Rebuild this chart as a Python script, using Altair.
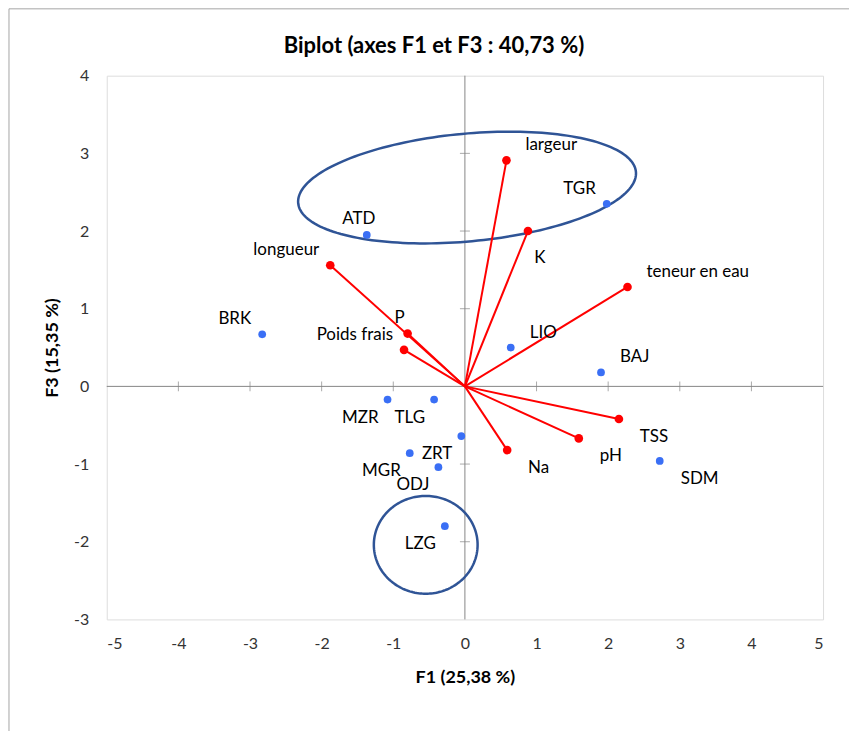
import altair as alt
import numpy as np
import pandas as pd

# Observations (blue) on F1 / F3
obs_names = ["TGR", "ATD", "BRK", "LIO", "BAJ", "MZR", "TLG", "ZRT", "MGR", "ODJ", "LZG", "SDM"]
obs_f1 = [1.98, -1.37, -2.83, 0.64, 1.90, -1.08, -0.43, -0.05, -0.77, -0.37, -0.28, 2.72]
obs_f3 = [2.35, 1.95, 0.67, 0.50, 0.18, -0.17, -0.17, -0.64, -0.86, -1.04, -1.80, -0.96]
obs_place = ["NW", "N", "NW", "NE", "NE", "SW", "SW", "SW", "SW", "SW", "SW", "SE"]

# Variables (red vectors)
var_names = ["largeur", "K", "longueur", "teneur en eau", "P", "Poids frais", "TSS", "pH", "Na"]
var_f1 = [0.58, 0.88, -1.88, 2.27, -0.80, -0.85, 2.15, 1.59, 0.59]
var_f3 = [2.91, 2.00, 1.56, 1.28, 0.68, 0.47, -0.42, -0.67, -0.82]
var_place = ["NE", "S", "NW", "NE", "N", "NW", "SE", "SE", "SE"]

x_ticks = [-5, -4, -3, -2, -1, 0, 1, 2, 3, 4, 5]
y_ticks = [-3, -2, -1, 0, 1, 2, 3, 4]
inner_x_ticks = [-4, -3, -2, -1, 1, 2, 3, 4]
inner_y_ticks = [-2, -1, 1, 2, 3]

TITLE = "Biplot (axes F1 et F3 : 40,73 %)"
X_TITLE = "F1 (25,38 %)"
Y_TITLE = "F3 (15,35 %)"

W, H = 718, 545
PX_X = W / (x_ticks[-1] - x_ticks[0])
PX_Y = H / (y_ticks[-1] - y_ticks[0])

FONT = "Lato"
BLUE = "#3A6FF5"
RED = "#FF0000"
NAVY = "#2F5496"
GREY = "#868686"

obs = pd.DataFrame({"name": obs_names, "f1": obs_f1, "f3": obs_f3, "place": obs_place})
var = pd.DataFrame({"name": var_names, "f1": var_f1, "f3": var_f3, "place": var_place})
labels = pd.concat([obs, var], ignore_index=True)


# Group outlines: ellipses given by centre (data units), semi-axes and tilt (pixels / degrees)
def outline(name, cx, cy, a_px, b_px, tilt_deg, n=181):
    t = np.linspace(0, 2 * np.pi, n)
    th = np.radians(tilt_deg)
    xp = a_px * np.cos(t) * np.cos(th) - b_px * np.sin(t) * np.sin(th)
    yp = a_px * np.cos(t) * np.sin(th) + b_px * np.sin(t) * np.cos(th)
    return pd.DataFrame({"shape": name, "i": np.arange(n),
                         "f1": cx + xp / PX_X, "f3": cy + yp / PX_Y})


groups = pd.concat([
    outline("haut", 0.03, 2.56, 170, 54, 5.3),
    outline("bas", -0.547, -2.04, 52, 49, 0),
], ignore_index=True)

xs = alt.Scale(domain=[x_ticks[0], x_ticks[-1]], nice=False, zero=False)
ys = alt.Scale(domain=[y_ticks[0], y_ticks[-1]], nice=False, zero=False)

axis_common = dict(grid=False, ticks=False, domain=False, labelFontSize=16,
                   labelColor="#333333", titleFontSize=18, titleFontWeight="bold",
                   titleColor="#000000", labelFont=FONT, titleFont=FONT,
                   labelExpr="'' + datum.value")
x_axis = alt.Axis(values=x_ticks, labelPadding=16, titlePadding=17, **axis_common)
y_axis = alt.Axis(values=y_ticks, labelPadding=18, titlePadding=12, **axis_common)

X = alt.X("f1:Q", scale=xs, title=X_TITLE, axis=x_axis)
Y = alt.Y("f3:Q", scale=ys, title=Y_TITLE, axis=y_axis)

# Zero lines through the origin
zero_v = alt.Chart(pd.DataFrame({"f1": [0]})).mark_rule(color=GREY, strokeWidth=1).encode(x=X)
zero_h = alt.Chart(pd.DataFrame({"f3": [0]})).mark_rule(color=GREY, strokeWidth=1).encode(y=Y)

# Crossing tick marks on the zero lines
tx = alt.Chart(pd.DataFrame({"f1": inner_x_ticks, "f3": 0})).mark_tick(
    orient="vertical", color=GREY, size=10, thickness=1).encode(x=X, y=Y)
ty = alt.Chart(pd.DataFrame({"f1": 0, "f3": inner_y_ticks})).mark_tick(
    orient="horizontal", color=GREY, size=10, thickness=1).encode(x=X, y=Y)

ellipses = alt.Chart(groups).mark_line(color=NAVY, strokeWidth=2.5).encode(
    x=X, y=Y, detail="shape:N", order="i:Q")

vectors = alt.Chart(var).transform_calculate(x0="0", y0="0").mark_rule(
    color=RED, strokeWidth=2).encode(
        x=alt.X("x0:Q", scale=xs, axis=x_axis, title=X_TITLE),
        y=alt.Y("y0:Q", scale=ys, axis=y_axis, title=Y_TITLE),
        x2="f1:Q", y2="f3:Q")
var_pts = alt.Chart(var).mark_circle(color=RED, size=75, opacity=1).encode(x=X, y=Y)
obs_pts = alt.Chart(obs).mark_circle(color=BLUE, size=60, opacity=1).encode(x=X, y=Y)

# Label placement around each point
placements = {
    "NE": dict(align="left", dx=19, dy=-15),
    "NW": dict(align="right", dx=-11, dy=-15),
    "N": dict(align="center", dx=-8, dy=-16),
    "S": dict(align="center", dx=12, dy=27),
    "SE": dict(align="left", dx=21, dy=18),
    "SW": dict(align="right", dx=-9, dy=18),
}
text_layers = []
for key, p in placements.items():
    text_layers.append(
        alt.Chart(labels).transform_filter(alt.datum.place == key).mark_text(
            font=FONT, fontSize=17, color="#000000", baseline="middle", **p
        ).encode(x=X, y=Y, text="name:N")
    )

one_row = pd.DataFrame({"k": [0]})

# Chart heading, centred on the whole figure
heading = alt.Chart(one_row).mark_text(
    font=FONT, fontSize=22, fontWeight="bold", color="#000000", align="center", baseline="middle"
).encode(x=alt.value(W / 2 - 31), y=alt.value(-30), text=alt.value(TITLE))

# Frame around the whole figure
frame_top = alt.Chart(one_row).mark_rule(color="#A6A6A6", strokeWidth=1).encode(
    x=alt.value(-98), x2=alt.value(744), y=alt.value(-67))
frame_left = alt.Chart(one_row).mark_rule(color="#A6A6A6", strokeWidth=1).encode(
    x=alt.value(-98), y=alt.value(-67), y2=alt.value(657))

chart = alt.layer(
    frame_top, frame_left, heading, zero_v, zero_h, tx, ty, ellipses, vectors,
    var_pts, obs_pts, *text_layers
).properties(
    width=W, height=H,
    padding={"left": 8, "top": 7, "right": 0, "bottom": 0},
).configure_view(stroke=GREY, strokeWidth=2).configure(background="white")

chart.save("out.html", embed_options={"renderer": "svg", "actions": False})
